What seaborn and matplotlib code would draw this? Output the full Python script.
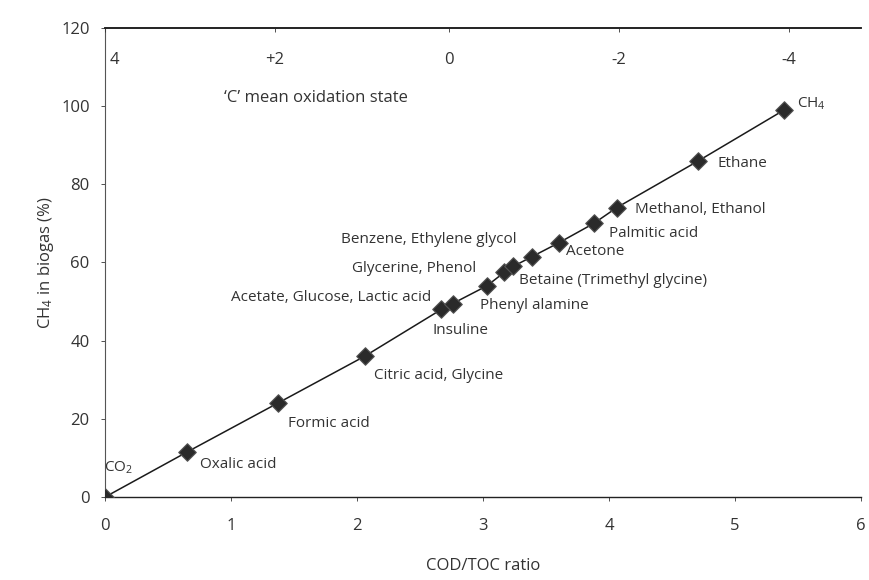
import matplotlib
matplotlib.use("Agg")
import matplotlib.pyplot as plt
import matplotlib.transforms as mtransforms
import seaborn as sns
import pandas as pd

# ---- data ----
compounds = ["CO2", "Oxalic acid", "Formic acid", "Citric acid, Glycine",
             "Acetate, Glucose, Lactic acid", "Insuline", "Phenyl alamine",
             "Glycerine, Phenol", "Benzene, Ethylene glycol",
             "Betaine (Trimethyl glycine)", "Acetone", "Palmitic acid",
             "Methanol, Ethanol", "Ethane", "CH4"]
cod_toc = [0.0, 0.65, 1.37, 2.06, 2.67, 2.76, 3.03, 3.17, 3.24, 3.39, 3.60, 3.88, 4.06, 4.71, 5.39]
ch4_pct = [0.0, 11.5, 24.0, 36.0, 48.0, 49.5, 54.0, 57.5, 59.0, 61.5, 65.0, 70.0, 74.0, 86.0, 99.0]
label_texts = ["CO$_2$", "Oxalic acid", "Formic acid", "Citric acid, Glycine",
               "Acetate, Glucose, Lactic acid", "Insuline", "Phenyl alamine",
               "Glycerine, Phenol", "Benzene, Ethylene glycol",
               "Betaine (Trimethyl glycine)", "Acetone", "Palmitic acid",
               "Methanol, Ethanol", "Ethane", "CH$_4$"]

x_ticks = [0, 1, 2, 3, 4, 5, 6]
y_ticks = [0, 20, 40, 60, 80, 100, 120]
ox_positions = [0.0, 1.35, 2.73, 4.08, 5.43]
ox_labels = ["4", "+2", "0", "-2", "-4"]

df = pd.DataFrame({"compound": compounds, "cod_toc": cod_toc, "ch4": ch4_pct})

# ---- layout (offsets in pixels: dx right, dy up; alignment) ----
label_layout = [(-1, 29, "left"), (13, -12, "left"), (10, -20, "left"), (9, -19, "left"),
                (-10, 12, "right"), (-20, -27, "left"), (-7, -20, "left"),
                (-28, 4, "right"), (3, 27, "right"), (-13, -24, "left"),
                (7, -9, "left"), (15, -10, "left"), (18, -2, "left"),
                (19, -3, "left"), (13, 6, "left")]

sns.set_style("ticks")
plt.rcParams["font.family"] = ["Open Sans", "DejaVu Sans"]
plt.rcParams["mathtext.fontset"] = "custom"
plt.rcParams["mathtext.rm"] = "Open Sans"
plt.rcParams["mathtext.it"] = "Open Sans"

fig = plt.figure(figsize=(8.7, 5.8), dpi=100)
ax = fig.add_axes([0.1207, 0.143, 0.8690, 0.809])

sns.lineplot(data=df, x="cod_toc", y="ch4", ax=ax, color="#1a1a1a", lw=1.1,
             sort=True, estimator=None)
sns.scatterplot(data=df, x="cod_toc", y="ch4", ax=ax, marker="D", s=80,
                color="#2a2a2a", edgecolor="#555555", linewidth=0.8, zorder=3)

px2pt = 0.72
for xi, yi, txt, (dx, dy, ha) in zip(cod_toc, ch4_pct, label_texts, label_layout):
    ax.annotate(txt, (xi, yi), xytext=(dx * px2pt, dy * px2pt),
                textcoords="offset points", ha=ha, va="center",
                fontsize=11, color="#333333")

ax.set_xlim(0, 6)
ax.set_ylim(0, 120)
ax.set_xticks(x_ticks)
ax.set_yticks(y_ticks)
ax.tick_params(axis="both", labelsize=12, colors="#333333", length=3, width=0.6)
ax.tick_params(axis="x", pad=12)
ax.tick_params(axis="y", pad=8)
ax.set_xlabel("COD/TOC ratio", fontsize=12, color="#333333", labelpad=17)
ax.set_ylabel("CH$_4$ in biogas (%)", fontsize=12, color="#333333", labelpad=4)

ax.spines["right"].set_visible(False)
ax.spines["left"].set_linestyle((0, (1, 1)))
ax.spines["left"].set_linewidth(0.8)
ax.spines["left"].set_color("#555555")
ax.spines["bottom"].set_color("#222222")
ax.spines["bottom"].set_linewidth(1.0)
ax.spines["top"].set_visible(True)
ax.spines["top"].set_color("#222222")
ax.spines["top"].set_linewidth(1.2)

# top axis: carbon mean oxidation state
top = ax.twiny()
top.set_xlim(ax.get_xlim())
top.set_xticks(ox_positions)
top.set_xticklabels(ox_labels)
top.tick_params(axis="x", direction="in", pad=-29, labelsize=12, colors="#333333",
                length=3, width=0.6)
first = top.get_xticklabels()[0]
first.set_transform(first.get_transform() +
                    mtransforms.ScaledTranslation(9 / 100, 0, fig.dpi_scale_trans))
for s in ["left", "right", "bottom"]:
    top.spines[s].set_visible(False)
top.spines["top"].set_color("#222222")
top.spines["top"].set_linewidth(1.2)
ax.text(0.945, 102, "\u2018C\u2019 mean oxidation state", fontsize=12,
        color="#333333", ha="left", va="center")

fig.savefig("out.png", dpi=100)
